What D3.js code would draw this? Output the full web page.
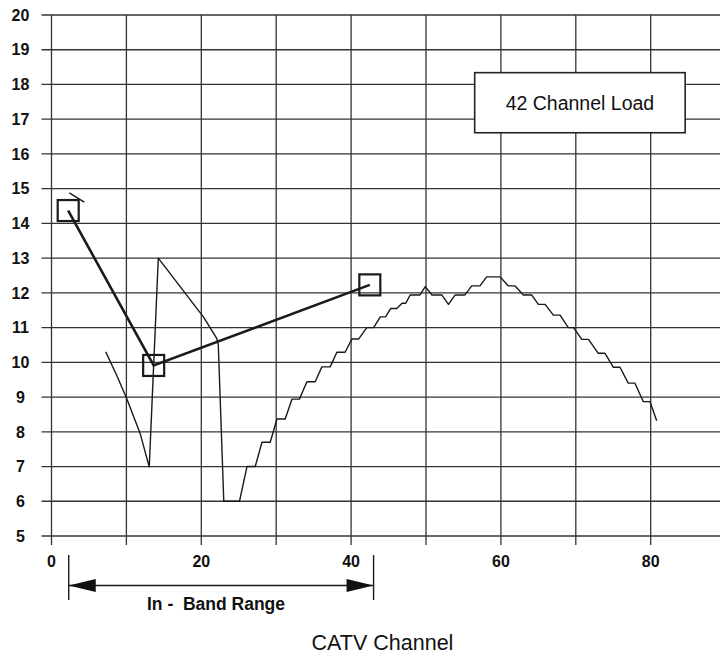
<!DOCTYPE html>
<html>
<head>
<meta charset="utf-8">
<script src="https://cdn.jsdelivr.net/npm/d3@7"></script>
<style>
  html, body { margin: 0; padding: 0; background: #fff; }
  svg { display: block; }
  text { font-family: "Liberation Sans", Arial, Helvetica, sans-serif; fill: #111; }
</style>
</head>
<body>
<svg id="chart" width="720" height="655"></svg>
<script>
// ---- data ----
const yTicks = [5, 6, 7, 8, 9, 10, 11, 12, 13, 14, 15, 16, 17, 18, 19, 20];
const xGridTicks = [0, 10, 20, 30, 40, 50, 60, 70, 80];
const xLabelTicks = [0, 20, 40, 60, 80];

// measured response (thin trace)
const responseCurve = [
  [7.24, 10.3], [8.7, 9.63], [10.04, 8.96], [11.82, 7.96], [13.05, 6.99],
  [14.26, 13.0], [20.3, 11.3], [22.06, 10.69], [22.27, 10.5], [23.0, 6.0], [25.1, 6.0],
  [26.1, 7.0], [27.2, 7.0], [28.1, 7.7], [29.2, 7.7], [30.1, 8.37], [31.2, 8.37],
  [32.1, 8.94], [33.1, 8.94], [34.1, 9.44], [35.2, 9.44], [36.1, 9.87], [37.2, 9.87],
  [38.1, 10.29], [39.2, 10.29], [40.1, 10.67], [41.0, 10.67], [42.1, 11.0], [43.0, 11.0],
  [43.9, 11.31], [44.6, 11.31], [45.3, 11.55], [46.1, 11.55], [46.8, 11.7], [47.3, 11.7],
  [47.9, 11.94], [49.2, 11.94], [49.9, 12.18], [50.8, 11.94], [52.1, 11.94], [53.0, 11.67],
  [53.9, 11.94], [55.2, 11.94], [56.1, 12.2], [57.2, 12.2], [58.1, 12.46], [59.9, 12.46],
  [61.0, 12.2], [61.9, 12.2], [63.0, 11.94], [64.1, 11.94], [65.0, 11.67], [65.9, 11.67],
  [67.0, 11.36], [67.9, 11.36], [69.0, 11.0], [69.7, 11.0], [70.8, 10.66], [71.7, 10.66],
  [73.0, 10.26], [73.9, 10.26], [75.0, 9.86], [75.9, 9.86], [77.0, 9.4], [77.9, 9.4],
  [79.0, 8.87], [79.9, 8.87], [80.8, 8.32]
];
const shortSegment = [[2.38, 14.88], [4.38, 14.61]];

// thick trace with square markers
const markerChannels = [2.23, 13.64, 42.5];
const markerValues = [14.37, 9.91, 12.23];

// in-band range annotation
const bandStart = 2.3;
const bandEnd = 43.0;
const bandLabel = "In -  Band Range";
const xTitle = "CATV Channel";
const legendLabel = "42 Channel Load";

// ---- scales ----
const x = d3.scaleLinear().domain([0, 80]).range([51.5, 650.7]);
const y = d3.scaleLinear().domain([5, 20]).range([536, 15]);
const xRightEdge = 720;

const svg = d3.select("#chart");
const gridColor = "#333";

// horizontal grid lines (with tick stubs to the left)
svg.append("g").selectAll("line").data(yTicks).join("line")
  .attr("x1", x(0) - 10).attr("x2", xRightEdge)
  .attr("y1", d => y(d)).attr("y2", d => y(d))
  .attr("stroke", gridColor).attr("stroke-width", 1.3);

// vertical grid lines (with tick stubs below)
svg.append("g").selectAll("line").data(xGridTicks).join("line")
  .attr("x1", d => x(d)).attr("x2", d => x(d))
  .attr("y1", y(20)).attr("y2", y(5) + 9)
  .attr("stroke", gridColor).attr("stroke-width", 1.3);

// y tick labels
svg.append("g").selectAll("text").data(yTicks).join("text")
  .attr("x", 20.5).attr("y", d => y(d))
  .attr("text-anchor", "middle").attr("dy", "0.36em")
  .style("font-weight", "bold").style("font-size", "16px")
  .text(d => d);

// x tick labels
svg.append("g").selectAll("text").data(xLabelTicks).join("text")
  .attr("x", d => x(d)).attr("y", 561)
  .attr("text-anchor", "middle").attr("dy", "0.36em")
  .style("font-weight", "bold").style("font-size", "16px")
  .text(d => d);

// legend box
const lx0 = x(56.5), lx1 = x(84.6), ly0 = y(18.34), ly1 = y(16.61);
svg.append("rect")
  .attr("x", lx0).attr("y", ly0).attr("width", lx1 - lx0).attr("height", ly1 - ly0)
  .attr("fill", "#fff").attr("stroke", "#222").attr("stroke-width", 1.6);
svg.append("text")
  .attr("x", (lx0 + lx1) / 2).attr("y", (ly0 + ly1) / 2).attr("dy", "0.36em")
  .attr("text-anchor", "middle").style("font-size", "19.5px")
  .text(legendLabel);

// thin response trace
const line = d3.line().x(d => x(d[0])).y(d => y(d[1]));
svg.append("path").datum(responseCurve)
  .attr("d", line).attr("fill", "none")
  .attr("stroke", "#1a1a1a").attr("stroke-width", 1.4).attr("stroke-linejoin", "round");
svg.append("path").datum(shortSegment)
  .attr("d", line).attr("fill", "none")
  .attr("stroke", "#1a1a1a").attr("stroke-width", 1.4);

// thick trace with markers
const thick = markerChannels.map((c, i) => [c, markerValues[i]]);
svg.append("path").datum(thick)
  .attr("d", line).attr("fill", "none")
  .attr("stroke", "#1a1a1a").attr("stroke-width", 2.6);
const ms = 21;
svg.append("g").selectAll("rect").data(thick).join("rect")
  .attr("x", d => x(d[0]) - ms / 2).attr("y", d => y(d[1]) - ms / 2)
  .attr("width", ms).attr("height", ms)
  .attr("fill", "none").attr("stroke", "#1a1a1a").attr("stroke-width", 2.2);

// in-band range annotation
const bx0 = x(bandStart), bx1 = x(bandEnd), by = 585.5;
svg.append("line").attr("x1", bx0).attr("x2", bx0).attr("y1", 555).attr("y2", 600)
  .attr("stroke", "#1a1a1a").attr("stroke-width", 1.4);
svg.append("line").attr("x1", bx1).attr("x2", bx1).attr("y1", 555).attr("y2", 600)
  .attr("stroke", "#1a1a1a").attr("stroke-width", 1.4);
svg.append("line").attr("x1", bx0).attr("x2", bx1).attr("y1", by).attr("y2", by)
  .attr("stroke", "#1a1a1a").attr("stroke-width", 1.3);
svg.append("path")
  .attr("d", `M${bx0},${by} L${bx0 + 27},${by - 6.5} L${bx0 + 27},${by + 6.5} Z`)
  .attr("fill", "#111");
svg.append("path")
  .attr("d", `M${bx1},${by} L${bx1 - 27},${by - 6.5} L${bx1 - 27},${by + 6.5} Z`)
  .attr("fill", "#111");
svg.append("text")
  .attr("x", 216).attr("y", 610)
  .attr("text-anchor", "middle")
  .style("font-weight", "bold").style("font-size", "17.5px").style("white-space", "pre")
  .text(bandLabel);

// x-axis title
svg.append("text")
  .attr("x", 382.5).attr("y", 650)
  .attr("text-anchor", "middle").style("font-size", "21.5px")
  .text(xTitle);
</script>
</body>
</html>
